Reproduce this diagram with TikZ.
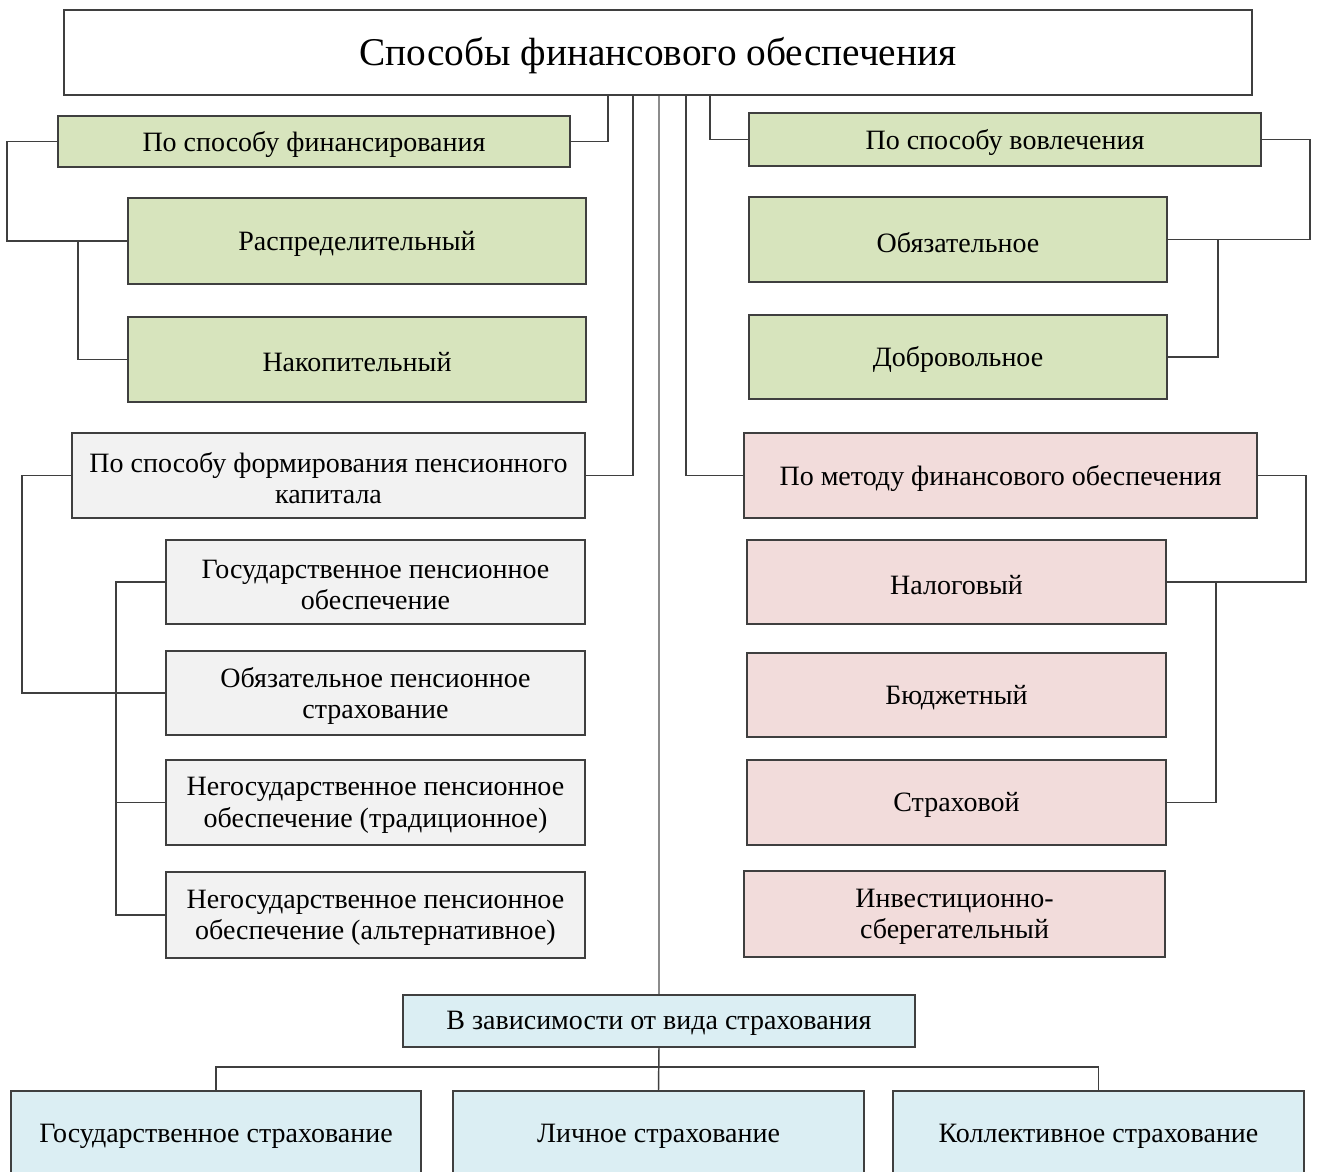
\documentclass[tikz,border=0pt]{standalone}
\usepackage{fontspec}
\setmainfont{Liberation Serif}
\usetikzlibrary{calc}

\definecolor{edge}{HTML}{3F3F3F}
\definecolor{spine}{HTML}{8C8C8C}
\definecolor{fgreen}{HTML}{D7E4BD}
\definecolor{fgrey}{HTML}{F2F2F2}
\definecolor{fpink}{HTML}{F2DCDB}
\definecolor{fblue}{HTML}{DBEEF3}

\tikzset{
  x=0.75pt, y=-0.75pt,
  box/.style={draw=edge, line width=1.3pt, rectangle, inner sep=0pt},
  greenbox/.style={box, fill=fgreen},
  greybox/.style={box, fill=fgrey},
  pinkbox/.style={box, fill=fpink},
  bluebox/.style={box, fill=fblue},
  titlebox/.style={box, fill=white},
  label text/.style={align=center, inner sep=0pt, text=black,
    font=\fontsize{21}{23.5}\selectfont},
  title text/.style={label text, font=\fontsize{29.5}{32}\selectfont},
  link/.style={draw=edge, line width=1.1pt},
  spineline/.style={draw=spine, line width=1.3pt},
}

% box given by its pixel corners: name, x1, y1, x2, y2, style, text;
% the text sits a little below the geometric centre of the frame
\newcommand\pbox[8][label text]{%
  \node[#7, minimum width={(#5-#3)*0.75pt}, minimum height={(#6-#4)*0.75pt}]
    (#2) at ({(#3+#5)/2},{(#4+#6)/2}) {};
  \node[#1] (#2-t) at ([yshift=-2pt]#2.center) {#8};}

\begin{document}
\begin{tikzpicture}
\clip (0,0) rectangle (1317,1171);
\fill[white] (0,0) rectangle (1317,1171);

% bus positions
\coordinate (xa) at (608,0);
\coordinate (xb) at (633,0);
\coordinate (xc) at (686,0);
\coordinate (xd) at (710,0);
\coordinate (xl1) at (7,0);
\coordinate (xl2) at (78,0);
\coordinate (xl3) at (22,0);
\coordinate (xl4) at (116,0);
\coordinate (xr1) at (1310,0);
\coordinate (xr2) at (1218,0);
\coordinate (xr3) at (1306,0);
\coordinate (xr4) at (1216,0);
\coordinate (yb) at (0,1067);

% boxes
\pbox[title text]{title}{64}{10}{1252}{95}{titlebox}{Способы финансового обеспечения}

\pbox{psf}{58}{116}{570}{167}{greenbox}{По способу финансирования}
\pbox{raspr}{128}{198}{586}{284}{greenbox}{Распределительный}
\pbox{nakop}{128}{317}{586}{402}{greenbox}{Накопительный}

\pbox{psv}{749}{113}{1261}{166}{greenbox}{По способу вовлечения}
\pbox{obyaz}{749}{197}{1167}{282}{greenbox}{Обязательное}
\pbox{dobr}{749}{315}{1167}{399}{greenbox}{Добровольное}

\pbox{psk}{72}{433}{585}{518}{greybox}{По способу формирования пенсионного\\капитала}
\pbox{gpo}{166}{540}{585}{624}{greybox}{Государственное пенсионное\\обеспечение}
\pbox{ops}{166}{651}{585}{735}{greybox}{Обязательное пенсионное\\страхование}
\pbox{npotr}{166}{760}{585}{845}{greybox}{Негосударственное пенсионное\\обеспечение (традиционное)}
\pbox{npoalt}{166}{872}{585}{958}{greybox}{Негосударственное пенсионное\\обеспечение (альтернативное)}

\pbox{pmf}{744}{433}{1257}{518}{pinkbox}{По методу финансового обеспечения}
\pbox{nalog}{747}{540}{1166}{624}{pinkbox}{Налоговый}
\pbox{budg}{747}{653}{1166}{737}{pinkbox}{Бюджетный}
\pbox{strah}{747}{760}{1166}{845}{pinkbox}{Страховой}
\pbox{invest}{744}{871}{1165}{957}{pinkbox}{Инвестиционно-\\сберегательный}

\pbox{vz}{403}{995}{915}{1047}{bluebox}{В зависимости от вида страхования}
\pbox{gos}{11}{1091}{421}{1176}{bluebox}{Государственное страхование}
\pbox{lich}{453}{1091}{864}{1176}{bluebox}{Личное страхование}
\pbox{koll}{893}{1091}{1304}{1176}{bluebox}{Коллективное страхование}

% links from the title
\draw[link] (title.south -| xa) |- (psf.east);
\draw[link] (title.south -| xb) |- (psk.east);
\draw[link] (title.south -| xc) |- (pmf.west);
\draw[link] (title.south -| xd) |- (psv.west);
\draw[spineline] (title.south -| vz.north) -- (vz.north);

% financing branch
\draw[link] (psf.west) -- (psf.west -| xl1) |- (raspr.west);
\draw[link] (raspr.west -| xl2) |- (nakop.west);

% involvement branch
\draw[link] (psv.east) -- (psv.east -| xr1) |- (obyaz.east);
\draw[link] (obyaz.east -| xr2) |- (dobr.east);

% pension capital branch
\draw[link] (psk.west) -- (psk.west -| xl3) |- (ops.west);
\draw[link] (gpo.west) -- (gpo.west -| xl4) |- (npoalt.west);
\draw[link] (npotr.west -| xl4) -- (npotr.west);

% method branch
\draw[link] (pmf.east) -- (pmf.east -| xr3) |- (nalog.east);
\draw[link] (nalog.east -| xr4) |- (strah.east);

% insurance type branch
\draw[link] (vz.south) -- (lich.north);
\draw[link] (gos.north) -- (gos.north |- yb) -- (koll.north |- yb) -- (koll.north);
\end{tikzpicture}
\end{document}
